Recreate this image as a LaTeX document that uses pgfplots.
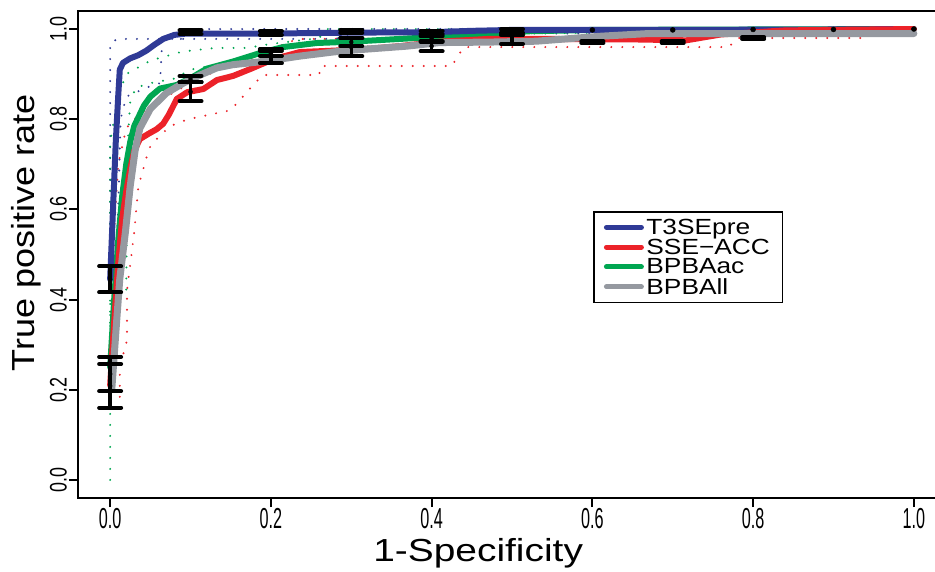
\documentclass[border=0pt]{standalone}
\usepackage{pgfplots}
\pgfplotsset{compat=1.18}
\usepackage{graphicx}
\usepackage{fontspec}
\setmainfont{Liberation Sans}

\definecolor{cblue}{HTML}{2F3A96}
\definecolor{cred}{HTML}{EC2229}
\definecolor{cgreen}{HTML}{00A651}
\definecolor{cgray}{HTML}{9599A0}

% narrow tick labels, wide axis labels
\newcommand{\xtl}[1]{\scalebox{0.56}[1]{#1}}
\newcommand{\ytl}[1]{\scalebox{0.75}[1]{#1}}
\newcommand{\leg}[1]{\scalebox{1.2}[1]{#1}}

\begin{document}
\begin{tikzpicture}
\begin{axis}[
  at={(0,0)}, anchor=south west,
  scale only axis,
  width=868bp, height=487bp,
  xmin=-0.04, xmax=1.04, ymin=-0.04, ymax=1.04,
  xtick={0,0.2,0.4,0.6,0.8,1},
  ytick={0,0.2,0.4,0.6,0.8,1},
  xticklabels={\xtl{0.0},\xtl{0.2},\xtl{0.4},\xtl{0.6},\xtl{0.8},\xtl{1.0}},
  yticklabels={\ytl{0.0},\ytl{0.2},\ytl{0.4},\ytl{0.6},\ytl{0.8},\ytl{1.0}},
  tick pos=left, tick align=outside,
  major tick length=9bp,
  every tick/.style={black, line width=2bp},
  axis line style={line width=2bp},
  xticklabel style={font=\fontsize{29}{29}\selectfont, inner sep=1.5bp},
  yticklabel style={font=\fontsize{24}{24}\selectfont, rotate=90, anchor=south, inner sep=2bp},
  xlabel={\scalebox{1.22}[1]{1-Specificity}},
  ylabel={\scalebox{1.13}[1]{True positive rate}},
  label style={font=\fontsize{32}{32}\selectfont},
  xlabel style={at={(axis description cs:0.461,-0.113)}, anchor=center},
  ylabel style={at={(axis description cs:-0.06,0.544)}, anchor=center},
  legend style={at={(axis cs:0.601,0.596)}, anchor=north west, draw=black,
    line width=1.5bp, fill=white, font=\fontsize{22}{22}\selectfont,
    inner xsep=10bp, inner ysep=6bp, row sep=1bp, column sep=0bp,
    nodes={inner xsep=2.5bp, inner ysep=1bp}},
  legend cell align=left,
  legend image code/.code={\draw[#1, line width=5bp, line cap=round] (2bp,0bp) -- (37bp,0bp);},
  dots/.style={line width=2.2bp, dash pattern=on 0pt off 11bp, line cap=round},
  curve/.style={line width=6bp, line cap=round, line join=round},
]
\addlegendimage{cblue}\addlegendentry{\leg{T3SEpre}}
\addlegendimage{cred}\addlegendentry{\leg{SSE−ACC}}
\addlegendimage{cgreen}\addlegendentry{\leg{BPBAac}}
\addlegendimage{cgray}\addlegendentry{\leg{BPBAll}}

% dotted spread lines
\addplot[cblue, dots, forget plot] coordinates {
 (0,0.47) (0,0.97) (0.01,0.978) (0.09,0.978) (0.1,1) (1,1)};
\addplot[cblue, dots, forget plot] coordinates {
 (0,0.42) (0.006,0.45) (0.01,0.6) (0.013,0.8) (0.02,0.85) (0.045,0.87)
 (0.062,0.88) (0.065,0.978) (0.28,0.978) (0.3,0.99) (1,0.99)};
\addplot[cgreen, dots, forget plot] coordinates {
 (0,0) (0,0.39) (0.02,0.42) (0.021,0.6) (0.022,0.75) (0.025,0.84) (0.032,0.87)
 (0.05,0.88) (0.08,0.89) (0.1,0.91) (0.13,0.92) (0.18,0.93) (0.22,0.94)
 (0.3,0.96) (0.45,0.97) (0.5,0.99) (1,1)};
\addplot[cgreen, dots, forget plot] coordinates {
 (0,0.3) (0,0.75) (0.01,0.85) (0.02,0.9) (0.05,0.93) (0.09,0.95) (0.13,0.958)
 (0.17,0.958) (0.2,0.967) (0.26,0.98) (0.27,1) (1,1)};
\addplot[cred, dots, forget plot] coordinates {
 (0,0.3) (0.005,0.55) (0.01,0.7) (0.02,0.78) (0.03,0.8) (0.05,0.83) (0.08,0.86)
 (0.11,0.89) (0.15,0.92) (0.2,0.95) (0.22,0.971) (0.24,0.978) (0.4,0.978)
 (0.45,0.99) (0.5,1) (1,1)};
\addplot[cred, dots, forget plot] coordinates {
 (0.012,0.16) (0.012,0.25) (0.021,0.31) (0.021,0.42) (0.03,0.55) (0.035,0.65)
 (0.046,0.72) (0.05,0.74) (0.06,0.76) (0.075,0.785) (0.097,0.8) (0.15,0.82)
 (0.165,0.85) (0.18,0.88) (0.19,0.898) (0.26,0.898) (0.262,0.918) (0.425,0.918)
 (0.44,0.96) (0.77,0.96) (0.78,0.98) (0.935,0.98) (0.95,1) (1,1)};

% averaged curves
\addplot[cgreen, curve, forget plot] coordinates {
 (0,0.25) (0.005,0.4) (0.01,0.53) (0.015,0.63) (0.02,0.7) (0.025,0.75) (0.03,0.785)
 (0.034,0.8) (0.042,0.83) (0.05,0.85) (0.062,0.868) (0.083,0.876) (0.103,0.894)
 (0.12,0.912) (0.153,0.928) (0.187,0.947) (0.215,0.96) (0.257,0.969) (0.3,0.972)
 (0.39,0.981) (0.47,0.988) (0.52,0.995) (0.6,0.998) (1,1)};
\addplot[cblue, curve, forget plot] coordinates {
 (0,0.445) (0.004,0.62) (0.007,0.75) (0.01,0.85) (0.012,0.91) (0.016,0.925)
 (0.025,0.935) (0.035,0.942) (0.045,0.952) (0.055,0.965) (0.066,0.978)
 (0.08,0.987) (0.095,0.99) (0.2,0.99) (0.3,0.992) (0.4,0.993) (0.45,0.996)
 (0.5,0.998) (0.7,0.998) (0.9,0.999) (1,1)};
\addplot[cred, curve, forget plot] coordinates {
 (0,0.21) (0.005,0.35) (0.01,0.48) (0.015,0.58) (0.02,0.64) (0.025,0.69) (0.03,0.73)
 (0.037,0.756) (0.048,0.768) (0.058,0.778) (0.066,0.79) (0.073,0.81) (0.083,0.845)
 (0.096,0.86) (0.116,0.867) (0.133,0.887) (0.153,0.896) (0.174,0.911) (0.203,0.933)
 (0.236,0.949) (0.277,0.952) (0.32,0.956) (0.36,0.962) (0.41,0.972) (0.47,0.978)
 (0.55,0.978) (0.65,0.977) (0.717,0.975) (0.76,0.988) (0.84,0.997) (1,1)};
\addplot[cgray, curve, line width=7bp, forget plot] coordinates {
 (0.002,0.2) (0.008,0.35) (0.012,0.446) (0.019,0.55) (0.025,0.652) (0.031,0.73)
 (0.037,0.78) (0.05,0.823) (0.07,0.858) (0.091,0.88) (0.112,0.898) (0.133,0.914)
 (0.153,0.921) (0.195,0.929) (0.236,0.94) (0.277,0.949) (0.3,0.953) (0.369,0.962)
 (0.41,0.97) (0.47,0.971) (0.53,0.973) (0.61,0.984) (0.67,0.99) (1,0.99)};

% error bars: vertical strokes, then the caps at both ends
\addplot[black, only marks, mark=none, forget plot,
  error bars/.cd, y dir=both, y explicit, error mark=none,
  error bar style={line width=3.5bp}]
  coordinates {
 (0,0.445) +- (0,0.029) (0,0.2085) +- (0,0.0485) (0,0.235) +- (0,0.038)
 (0.1,0.993) +- (0,0.004) (0.1,0.889) +- (0,0.007) (0.1,0.861) +- (0,0.021)
 (0.2,0.991) +- (0,0.004) (0.2,0.94) +- (0,0.016) (0.2,0.946) +- (0,0.006)
 (0.3,0.995) +- (0,0.003) (0.3,0.96) +- (0,0.02) (0.3,0.971) +- (0,0.009)
 (0.4,0.992) +- (0,0.004) (0.4,0.962) +- (0,0.011) (0.4,0.978) +- (0,0.006)
 (0.5,0.983) +- (0,0.016) (0.5,0.989) +- (0,0.003)
 (0.6,0.971) +- (0,0.002) (0.7,0.971) +- (0,0.002) (0.8,0.98) +- (0,0.002)};
\addplot[black, only marks, mark=-, mark size=11bp, forget plot,
  mark options={line width=4bp, line cap=round}] coordinates {
 (0,0.474) (0,0.416) (0,0.257) (0,0.16) (0,0.273) (0,0.197)
 (0.1,0.997) (0.1,0.989) (0.1,0.896) (0.1,0.882) (0.1,0.882) (0.1,0.840)
 (0.2,0.995) (0.2,0.987) (0.2,0.956) (0.2,0.924) (0.2,0.952) (0.2,0.940)
 (0.3,0.998) (0.3,0.992) (0.3,0.980) (0.3,0.940) (0.3,0.980) (0.3,0.962)
 (0.4,0.996) (0.4,0.988) (0.4,0.973) (0.4,0.951) (0.4,0.984) (0.4,0.972)
 (0.5,0.999) (0.5,0.967) (0.5,0.992) (0.5,0.986)
 (0.6,0.973) (0.6,0.969) (0.7,0.973) (0.7,0.969) (0.8,0.982) (0.8,0.978)};
\addplot[black, only marks, mark=*, mark size=2.5bp, forget plot] coordinates {
 (0.6,0.998) (0.7,0.998) (0.8,0.999) (0.9,0.999) (1,1)};
\end{axis}
\pgfresetboundingbox
\path[use as bounding box] (-78bp,-74bp) rectangle (857bp,498bp);
\end{tikzpicture}
\end{document}
